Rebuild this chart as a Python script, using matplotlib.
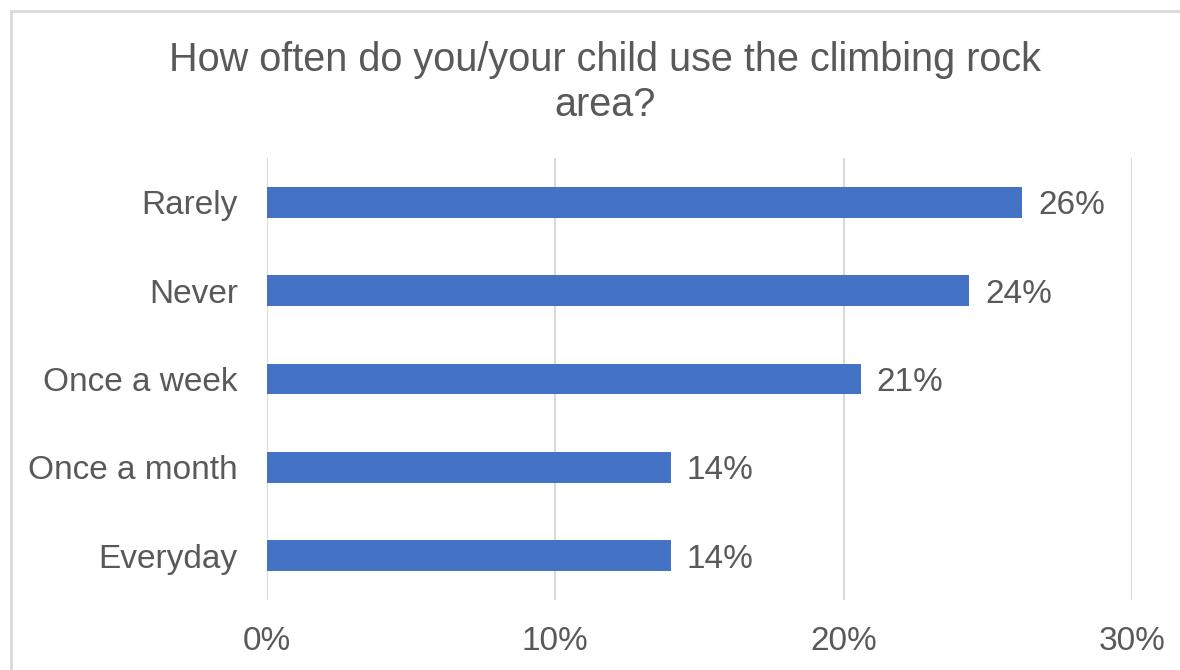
import matplotlib
matplotlib.use("Agg")
import matplotlib.pyplot as plt
from matplotlib.patches import Rectangle

plt.rcParams['font.family'] = ['Liberation Sans', 'DejaVu Sans']

categories = ['Everyday', 'Once a month', 'Once a week', 'Never', 'Rarely']
values = [14.0, 14.0, 20.6, 24.35, 26.2]
xticks = [0, 10, 20, 30]
xticklabels = ['0%', '10%', '20%', '30%']
title = 'How often do you/your child use the climbing rock\narea?'

text_col = '#595959'
grid_col = '#D9D9D9'
bar_col = '#4472C4'

fig = plt.figure(figsize=(11.8, 6.7), dpi=100)
ax = fig.add_axes([0.2263, 0.1045, 0.733, 0.6597])

# chart border (cut off at right/bottom like the screenshot)
fig.patches.append(Rectangle((11/1180, -0.05), 1.2, 1 - 11/670 + 0.05,
                             transform=fig.transFigure, fill=False,
                             edgecolor=grid_col, linewidth=2))

y = list(range(len(categories)))
ax.barh(y, values, height=0.35, color=bar_col, zorder=3)
for yi, v in zip(y, values):
    ax.text(v + 0.55, yi, f'{round(v)}%', va='center_baseline', ha='left',
            fontsize=24, color=text_col)

ax.set_xlim(0, 30)
ax.set_ylim(-0.5, len(categories) - 0.5)
ax.set_xticks(xticks)
ax.set_xticklabels(xticklabels)
ax.set_yticks(y)
ax.set_yticklabels(categories)
ax.tick_params(axis='both', length=0, labelsize=24, labelcolor=text_col)
ax.tick_params(axis='y', pad=21)
ax.tick_params(axis='x', pad=19)
ax.grid(axis='x', color=grid_col, linewidth=1.5, zorder=0)
for s in ax.spines.values():
    s.set_visible(False)

fig.text(0.5127, 0.877, title, ha='center', va='center', fontsize=28.5,
         color=text_col, linespacing=1.25)

fig.savefig('out.png', dpi=100)
